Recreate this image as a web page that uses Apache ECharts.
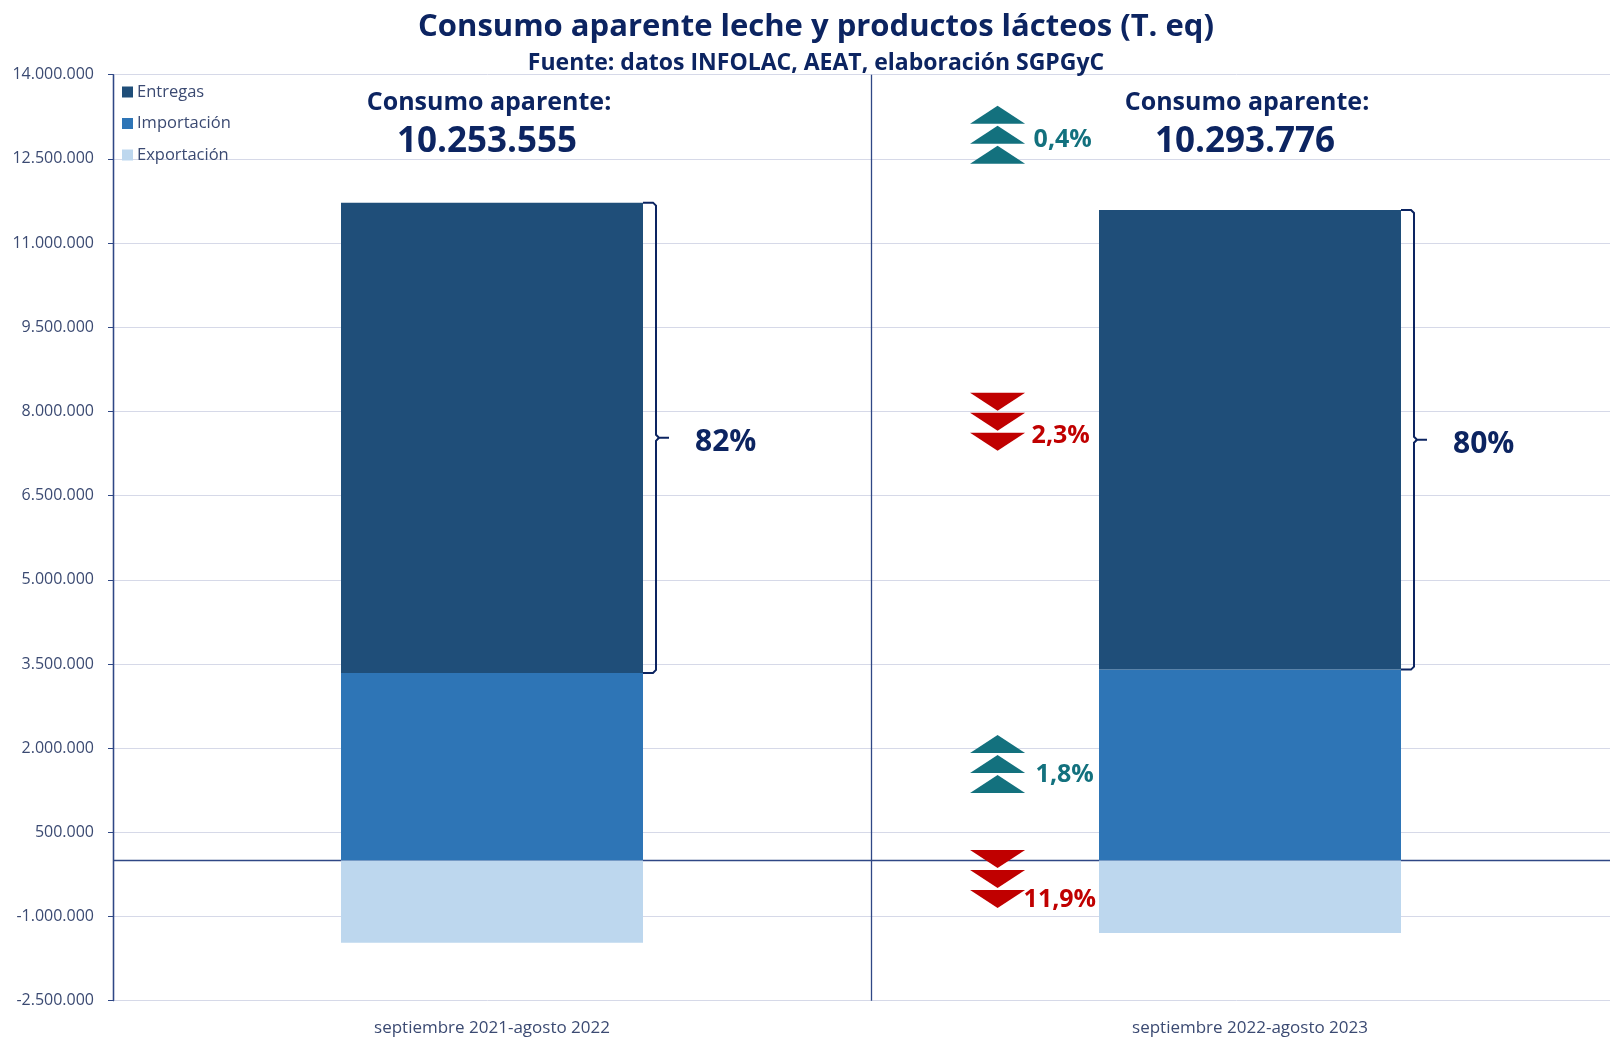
<!DOCTYPE html>
<html><head><meta charset="utf-8">
<script src="https://cdn.jsdelivr.net/npm/echarts@6/dist/echarts.min.js"></script>
<style>html,body{margin:0;padding:0;background:#fff}#c{width:1610px;height:1038px}</style>
</head><body><div id="c"></div>
<script>
// ---- data ----
const categories = ['septiembre 2021-agosto 2022', 'septiembre 2022-agosto 2023'];
const entregas = [8380000, 8190000];
const importacion = [3340000, 3400000];
const exportacion = [-1466000, -1292000];
const consumoAparente = [10253555, 10293776];
const cuotaEntregas = ['82%', '80%'];
const variacionLabels = ['0,4%', '2,3%', '1,8%', '11,9%'];
const variacionDir = ['up', 'down', 'up', 'down'];
const yTicks = [-2500000, -1000000, 500000, 2000000, 3500000, 5000000, 6500000, 8000000, 9500000, 11000000, 12500000, 14000000];

// ---- annotation layout (axis units), kept apart from the data ----
const varArrowAt = [12930000, 7815000, 1716000, -333000];
const varTextAt = [12830000, 7570000, 1520000, -707000];
const varTextDx = [36, 34, 38, 26];
const consumoTitleAt = 13490000;
const consumoValueAt = 12800000;

const NAVY = '#0c2461';
const LABEL = '#3b4a72';
const AXIS = '#2f4785';
const GRIDC = '#d6d9e8';
const TEAL = '#13717e';
const RED = '#c00000';
const FONT = '"Open Sans", "Noto Sans", sans-serif';
const BAR_W = 302;

function fmt(v) {
  const s = Math.abs(Math.round(v)).toString().replace(/\B(?=(\d{3})+(?!\d))/g, '.');
  return (v < 0 ? '-' : '') + s;
}

const chart = echarts.init(document.getElementById('c'), null, { renderer: 'canvas' });

const option = {
  backgroundColor: '#ffffff',
  animation: false,
  textStyle: { fontFamily: FONT },
  graphic: [
    { type: 'text', x: 816, y: 27, z: 100, style: { text: 'Consumo aparente leche y productos lácteos (T. eq)', font: 'bold 31px ' + FONT, fill: NAVY, align: 'center', verticalAlign: 'middle', textAlign: 'center', textVerticalAlign: 'middle' } },
    { type: 'text', x: 816, y: 63, z: 100, style: { text: 'Fuente: datos INFOLAC, AEAT, elaboración SGPGyC', font: 'bold 23px ' + FONT, fill: NAVY, align: 'center', verticalAlign: 'middle', textAlign: 'center', textVerticalAlign: 'middle' } }
  ],
  legend: {
    data: ['Entregas', 'Importación', 'Exportación'],
    orient: 'vertical',
    left: 122, top: 82,
    padding: 0,
    itemGap: 11.5,
    itemWidth: 11, itemHeight: 11,
    icon: 'rect',
    selectedMode: false,
    textStyle: { fontSize: 16.5, color: LABEL, fontFamily: FONT, lineHeight: 20, padding: [0, 0, 0, -1] }
  },
  grid: { left: 113, width: 1516, top: 74.7, bottom: 37.3, containLabel: false, outerBoundsMode: 'none' },
  xAxis: {
    type: 'category',
    data: categories,
    axisLine: { show: false, onZero: false },
    axisTick: { show: false },
    axisLabel: { fontSize: 17, color: LABEL, margin: 19, fontFamily: FONT },
    splitLine: { show: true, lineStyle: { color: AXIS, width: 1.3 } }
  },
  yAxis: {
    type: 'value',
    min: -2500000, max: 14000000,
    interval: 500000,
    axisLine: { show: true, lineStyle: { color: AXIS, width: 1.3 } },
    axisTick: { show: true, length: 5, lineStyle: { color: AXIS }, customValues: yTicks },
    axisLabel: { fontSize: 16, color: LABEL, margin: 19, formatter: fmt, customValues: yTicks, fontFamily: FONT },
    splitLine: { show: true, lineStyle: { color: GRIDC, width: 1 } }
  },
  series: [
    {
      name: 'Importación', type: 'bar', stack: 'total', data: importacion, barWidth: BAR_W,
      itemStyle: { color: '#2e75b6' }
    },
    {
      name: 'Entregas', type: 'bar', stack: 'total', data: entregas, barWidth: BAR_W,
      itemStyle: { color: '#1f4e79' }
    },
    {
      name: 'Exportación', type: 'bar', stack: 'total', data: exportacion, barWidth: BAR_W,
      itemStyle: { color: '#bdd7ee' },
      markLine: {
        z: 1, silent: true, symbol: ['none', 'none'], label: { show: false },
        lineStyle: { color: AXIS, width: 1.4, type: 'solid' },
        data: [{ yAxis: 0 }]
      }
    },
    {
      // "Consumo aparente" headers above each bar
      type: 'custom', z: 10, silent: true, clip: false,
      data: consumoAparente.map((v, i) => [i, v, i]),
      encode: { x: 0, y: 1 },
      renderItem: function (params, api) {
        const i = api.value(2);
        const p1 = api.coord([i, consumoTitleAt]);
        const p2 = api.coord([i, consumoValueAt]);
        return {
          type: 'group', children: [
            { type: 'text', style: { x: p1[0] - 3, y: p1[1], text: 'Consumo aparente:', font: 'bold 25px ' + FONT, fill: NAVY, align: 'center', verticalAlign: 'middle' } },
            { type: 'text', style: { x: p2[0] - 5, y: p2[1], text: fmt(consumoAparente[i]), font: 'bold 35px ' + FONT, fill: NAVY, align: 'center', verticalAlign: 'middle' } }
          ]
        };
      }
    },
    {
      // braces around Entregas with share label
      type: 'custom', z: 10, silent: true, clip: false,
      data: entregas.map((v, i) => [i, importacion[i] + v, i]),
      encode: { x: 0, y: 1 },
      renderItem: function (params, api) {
        const i = api.value(2);
        const c = api.coord([i, 0]);
        const x0 = c[0] + BAR_W / 2;
        const x1 = x0 + 13;
        const tip = 13;
        const yT = api.coord([i, importacion[i] + entregas[i]])[1];
        const yB = api.coord([i, importacion[i]])[1];
        const ym = (yT + yB) / 2;
        const ls = { stroke: NAVY, lineWidth: 2, fill: null };
        return {
          type: 'group', children: [
            { type: 'polyline', shape: { points: [[x0, yT], [x1 - 3, yT], [x1, yT + 3], [x1, ym - 3], [x1 + 3, ym], [x1 + tip, ym]] }, style: ls },
            { type: 'polyline', shape: { points: [[x1 + 3, ym], [x1, ym + 3], [x1, yB - 3], [x1 - 3, yB], [x0, yB]] }, style: ls },
            { type: 'text', style: { x: x0 + 52, y: ym + 5, text: cuotaEntregas[i], font: 'bold 30px ' + FONT, fill: NAVY, align: 'left', verticalAlign: 'middle' } }
          ]
        };
      }
    },
    {
      // variation arrows
      type: 'custom', z: 10, silent: true, clip: false,
      data: varArrowAt.map((v, k) => [1, v, k]),
      encode: { x: 0, y: 1 },
      renderItem: function (params, api) {
        const k = api.value(2);
        const c = api.coord([1, varArrowAt[k]]);
        const band = api.size([1, 0])[0];
        const cx = c[0] - band * 0.333;
        const up = variacionDir[k] === 'up';
        const col = up ? TEAL : RED;
        const hw = 27.5, hh = 9;
        const children = [];
        [-20, 0, 20].forEach(function (d) {
          const cy = c[1] + d;
          const pts = up
            ? [[cx - hw, cy + hh], [cx + hw, cy + hh], [cx, cy - hh]]
            : [[cx - hw, cy - hh], [cx + hw, cy - hh], [cx, cy + hh]];
          children.push({ type: 'polygon', shape: { points: pts }, style: { fill: col } });
        });
        const ty = api.coord([1, varTextAt[k]])[1];
        children.push({ type: 'text', style: { x: cx + varTextDx[k], y: ty, text: variacionLabels[k], font: 'bold 25px ' + FONT, fill: col, align: 'left', verticalAlign: 'middle' } });
        return { type: 'group', children: children };
      }
    }
  ]
};
chart.setOption(option);
</script>
</body></html>
